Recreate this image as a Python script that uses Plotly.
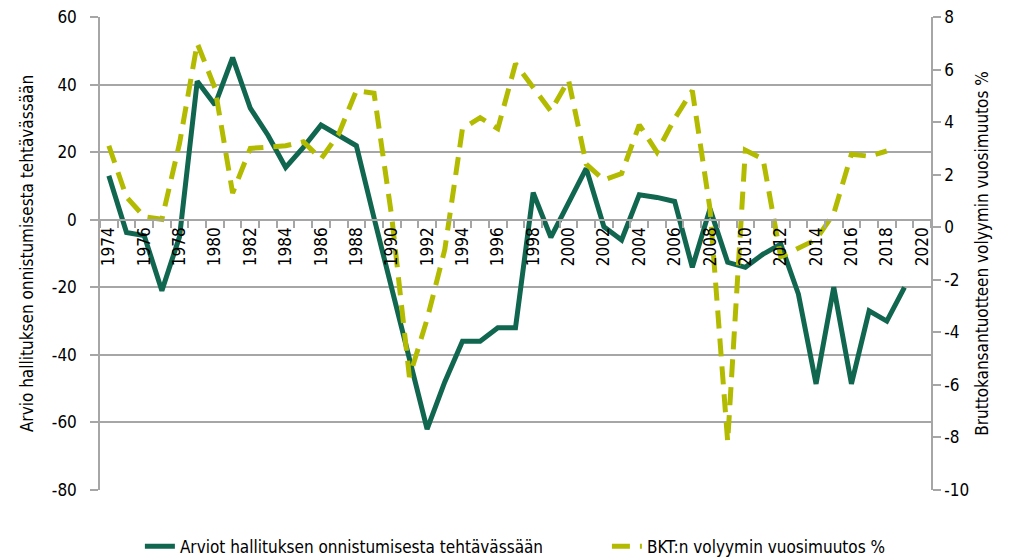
import plotly.graph_objects as go

years_gov = list(range(1974, 2020))
gov_rating = [13, -3.8, -4.7, -21, -5, 41, 34, 48, 33, 25, 15.5, 21.4, 28, 24.8, 21.9,
              0.5, -20, -40, -62, -48, -36, -36, -32, -32, 8, -5.2, 5, 15.2, -2.1, -6,
              7.4, 6.6, 5.4, -14.1, 3.2, -12.6, -14.1, -10.2, -7.2, -22, -48.6, -20,
              -48.6, -27, -30, -20]

years_gdp = list(range(1974, 2019))
gdp_change = [3.1, 1.15, 0.4, 0.3, 3.2, 7.0, 5.3, 1.3, 3.0, 3.05, 3.1, 3.25, 2.6, 3.55,
              5.2, 5.1, 0.4, -5.7, -3.5, -0.85, 3.75, 4.17, 3.75, 6.22, 5.3, 4.42, 5.6,
              2.4, 1.8, 2.04, 3.9, 2.86, 4.13, 5.2, 0.7, -8.16, 2.93, 2.6, -1.13, -0.8,
              -0.47, 0.52, 2.78, 2.7, 2.9]

x_tick_years = list(range(1974, 2021, 2))
x_tick_labels = [str(y) for y in x_tick_years]
left_ticks = [60, 40, 20, 0, -20, -40, -60, -80]
left_labels = ["60", "40", "20", "0", "-20", "-40", "-60", "-80"]
right_ticks = [8, 6, 4, 2, 0, -2, -4, -6, -8, -10]
right_labels = ["8", "6", "4", "2", "0", "-2", "-4", "-6", "-8", "-10"]

GREEN = "#11664f"
YELLOW = "#b3bb00"
GRID = "#a6a6a6"
FONT = "DejaVu Sans Condensed, Liberation Sans Narrow, sans-serif"
FS = 17

fig = go.Figure()
fig.add_trace(go.Scatter(
    x=years_gov, y=gov_rating, mode="lines",
    name="Arviot hallituksen onnistumisesta tehtävässään",
    line=dict(color=GREEN, width=5), yaxis="y", legend="legend"))
fig.add_trace(go.Scatter(
    x=years_gdp, y=gdp_change, mode="lines",
    name="BKT:n volyymin vuosimuutos %",
    line=dict(color=YELLOW, width=5, dash="18px,10px"), yaxis="y2", legend="legend2"))

zero_pos = (0 - (-80)) / (60 - (-80))

fig.update_layout(
    width=1005, height=552,
    margin=dict(l=92, r=82, t=9, b=70, autoexpand=False),
    plot_bgcolor="white", paper_bgcolor="white",
    font=dict(family=FONT, size=FS, color="#000000"),
    showlegend=True,
    legend=dict(orientation="h", x=0.048, xanchor="left", y=-0.12, yanchor="middle",
                font=dict(family=FONT, size=FS), bgcolor="rgba(0,0,0,0)"),
    legend2=dict(orientation="h", x=0.61, xanchor="left", y=-0.12, yanchor="middle",
                 font=dict(family=FONT, size=FS), bgcolor="rgba(0,0,0,0)"),
    xaxis=dict(
        range=[1973.5, 2020.5], anchor="free", position=zero_pos,
        tickmode="array", tickvals=x_tick_years, ticktext=x_tick_labels,
        tickangle=-90, ticks="", showgrid=False, zeroline=False,
        showline=True, linecolor=GRID, linewidth=1.5,
        tickfont=dict(family=FONT, size=FS),
        minor=dict(tickmode="array",
                   tickvals=[y - 0.5 for y in range(1974, 2022)],
                   ticks="outside", ticklen=8, tickcolor=GRID, tickwidth=1.5,
                   showgrid=False),
    ),
    yaxis=dict(
        range=[-80, 60], tickmode="array", tickvals=left_ticks, ticktext=left_labels,
        showgrid=True, gridcolor=GRID, gridwidth=1.5, zeroline=False,
        showline=True, linecolor=GRID, linewidth=1.5,
        ticks="outside", ticklen=8, tickcolor=GRID, tickwidth=1.5,
        ticklabelstandoff=10, ticklabeloverflow="allow",
        title=dict(text="Arvio hallituksen onnistumisesta tehtävässään",
                   font=dict(family=FONT, size=FS), standoff=14),
        tickfont=dict(family=FONT, size=FS),
    ),
    yaxis2=dict(
        range=[-10, 8], tickmode="array", tickvals=right_ticks, ticktext=right_labels,
        overlaying="y", side="right", anchor="x",
        showgrid=False, zeroline=False,
        showline=True, linecolor=GRID, linewidth=1.5,
        ticks="outside", ticklen=8, tickcolor=GRID, tickwidth=1.5,
        ticklabeloverflow="allow",
        title=dict(text="Bruttokansantuotteen volyymin vuosimuutos %",
                   font=dict(family=FONT, size=FS), standoff=8),
        tickfont=dict(family=FONT, size=FS),
    ),
)

fig.write_html("out.html")
